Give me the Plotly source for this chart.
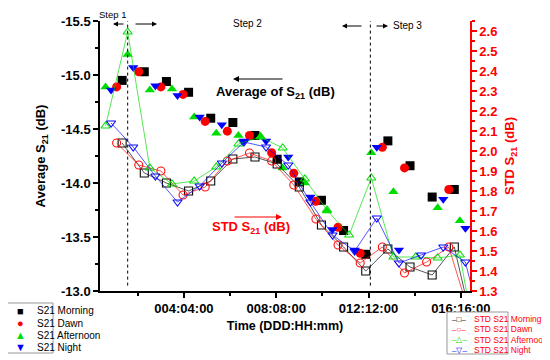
import plotly.graph_objects as go

# ---------------- data ----------------
tick_hours = [100, 200, 300, 400]
tick_labels = ["004:04:00", "008:08:00", "012:12:00", "016:16:00"]
minor_hours = [50, 150, 250, 350]

left_ticks = [-15.5, -15.0, -14.5, -14.0, -13.5, -13.0]
left_labels = ["-15.5", "-15.0", "-14.5", "-14.0", "-13.5", "-13.0"]

step_bounds = [39, 302]

t_afternoon = [15, 39, 63, 87, 111, 135, 159, 183, 207, 231, 255, 279, 303, 327, 351, 375, 399, 423]
t_night = [21, 45, 69, 93, 117, 141, 165, 189, 213, 237, 261, 285, 309, 333, 357, 381, 405, 429]
t_dawn = [27, 51, 75, 99, 123, 147, 171, 195, 219, 243, 267, 291, 315, 339, 363, 387, 411]
t_morning = [33, 57, 81, 105, 129, 153, 177, 201, 225, 249, 273, 297, 321, 345, 369, 393, 417]

avg_afternoon = [-14.89, -15.19, -14.86, -14.87, -14.61, -14.46, -14.44, -14.43, -14.14, -14.00,
                 -13.74, None, -14.28, -13.92, None, -13.77, -13.65, None]
avg_night = [-14.86, -15.07, -14.90, -14.81, -14.61, -14.54, -14.39, -14.39, -14.24, -13.87,
             -13.57, -13.38, -14.33, -13.38, None, -13.85, -13.58, None]
avg_dawn = [-14.89, -15.03, -14.89, -14.82, -14.57, -14.48, -14.44, -14.28, -14.09, -13.83,
            -13.59, -13.35, -14.33, -14.14, None, -13.94, None]
avg_morning = [-14.95, -15.03, -14.94, -14.84, -14.60, -14.56, -14.44, -14.22, -14.01, -13.84,
               -13.56, -13.34, -14.39, -14.16, -13.87, -13.94, None]

std_afternoon = [2.125, 2.595, 1.915, 1.835, 1.85, 1.92, 2.035, 2.07, 2.015, 1.86,
                 1.705, 1.58, 1.865, 1.47, 1.47, 1.465, 1.48, 0.87]
std_night = [2.14, 2.02, 1.875, 1.745, 1.825, 1.94, 2.045, 2.02, 1.93, 1.745,
             1.58, 1.50, 1.665, 1.44, 1.48, 1.52, 1.445, 1.0]
std_dawn = [2.04, 1.93, 1.90, 1.78, 1.82, 1.95, 1.99, 1.95, 1.83, 1.66,
            1.53, 1.44, 1.52, 1.39, 1.445, 1.52, 1.16]
std_morning = [2.04, 1.89, 1.84, 1.80, 1.85, 1.96, 1.97, 1.935, 1.82, 1.63,
               1.52, 1.40, 1.51, 1.42, 1.38, 1.52, 1.04]

# ---------------- style ----------------
FONT = "Liberation Sans, Arial, sans-serif"
BLACK, RED, GREEN, BLUE = "#000000", "#ff0000", "#00dd00", "#0000ff"

series = [
    ("Morning", t_morning, avg_morning, std_morning, BLACK, "square"),
    ("Dawn", t_dawn, avg_dawn, std_dawn, RED, "circle"),
    ("Afternoon", t_afternoon, avg_afternoon, std_afternoon, GREEN, "triangle-up"),
    ("Night", t_night, avg_night, std_night, BLUE, "triangle-down"),
]

fig = go.Figure()

for name, t, avg, std, col, sym in series:
    fig.add_trace(go.Scatter(
        x=t, y=std, yaxis="y2", mode="lines+markers", name="STD S21 " + name,
        line=dict(color=col, width=0.7),
        marker=dict(symbol=sym + "-open", size=8, color=col, line=dict(width=1.1, color=col)),
        opacity=0.95, showlegend=False, cliponaxis=True))

for name, t, avg, std, col, sym in series:
    fig.add_trace(go.Scatter(
        x=t, y=avg, yaxis="y", mode="markers", name="S21 " + name,
        marker=dict(symbol=sym, size=9, color=col, line=dict(width=0)),
        showlegend=False))

bold13 = dict(family=FONT, size=13, color="black", weight="bold")

# the page body has an 8 px margin, so the figure is shifted by 8 px
fig.update_layout(
    width=542, height=352,
    margin=dict(l=92, r=80, t=13, b=69, autoexpand=False),
    paper_bgcolor="white", plot_bgcolor="white",
    font=dict(family=FONT, color="black"),
    xaxis=dict(
        range=[9, 410], showline=True, linecolor="black", linewidth=1.5,
        ticks="outside", ticklen=5, tickwidth=1.5, tickcolor="black",
        tickmode="array", tickvals=tick_hours, ticktext=tick_labels,
        minor=dict(tickmode="array", tickvals=minor_hours, ticks="outside", ticklen=3,
                   tickwidth=1.5, tickcolor="black"),
        showgrid=False, zeroline=False, tickfont=bold13, automargin=False,
        title=dict(text="Time (DDD:HH:mm)", font=dict(family=FONT, size=12.5, weight="bold"),
                   standoff=6),
    ),
    yaxis=dict(
        range=[-13.0, -15.5], showline=True, linecolor="black", linewidth=1.5,
        ticks="outside", ticklen=5, tickwidth=1.5, tickcolor="black",
        tickmode="array", tickvals=left_ticks, ticktext=left_labels,
        minor=dict(dtick=0.25, tick0=-15.5, ticks="outside", ticklen=3, tickwidth=1.5,
                   tickcolor="black"),
        showgrid=False, zeroline=False, tickfont=bold13, automargin=False,
        title=dict(text="Average S<sub>21</sub> (dB)",
                   font=dict(family=FONT, size=13, weight="bold"), standoff=12),
    ),
    yaxis2=dict(
        overlaying="y", side="right", anchor="x",
        range=[1.3, 2.65], showline=True, linecolor=RED, linewidth=1.5,
        ticks="outside", ticklen=5, tickwidth=1.5, tickcolor=RED,
        dtick=0.1, tick0=1.3, tickformat=".1f",
        minor=dict(dtick=0.05, tick0=1.3, ticks="outside", ticklen=3, tickwidth=1.5,
                   tickcolor=RED),
        showgrid=False, zeroline=False, automargin=False,
        tickfont=dict(family=FONT, size=13, color=RED, weight="bold"),
        title=dict(text="STD S<sub>21</sub> (dB)",
                   font=dict(family=FONT, size=13, color=RED, weight="bold"), standoff=8),
    ),
    showlegend=False,
)

# step boundaries (dotted lines)
for xb in step_bounds:
    fig.add_shape(type="line", xref="x", yref="paper", x0=xb, x1=xb, y0=0.02, y1=1.0,
                  line=dict(color="black", width=1, dash="dot"))


def px_x(p):
    return (p - 100) / 370.0


def px_y(p):
    return (291 - p) / 270.0


def arrow(head_x, tail_x, y, color="black", width=1):
    fig.add_annotation(xref="paper", yref="paper", x=px_x(head_x), y=px_y(y),
                       ax=tail_x - head_x, ay=0, text="", showarrow=True,
                       arrowhead=2, arrowsize=1, arrowwidth=width, arrowcolor=color)


def label(text, x, y, size=10, color="black", weight="normal", xanchor="center"):
    fig.add_annotation(xref="paper", yref="paper", x=px_x(x), y=px_y(y), text=text,
                       showarrow=False, xanchor=xanchor, yanchor="middle",
                       font=dict(family=FONT, size=size, color=color, weight=weight))


label("Step 1", 112, 14.5, size=9.5)
arrow(113, 125, 24)
arrow(157, 134, 24)
label("Step 2", 247, 24)
arrow(342, 363, 26)
arrow(388, 375, 26)
label("Step 3", 391, 26, xanchor="left")

arrow(233, 284, 79, width=1.2)
label("Average of S<sub>21</sub> (dB)", 275, 92, size=13, weight="bold")
arrow(282, 233, 217, color=RED, width=1.2)
label("STD S<sub>21</sub> (dB)", 251, 228, size=13, color=RED, weight="bold")

# legend 1 (filled markers)
fig.add_shape(type="rect", xref="paper", yref="paper", x0=px_x(6), x1=px_x(53),
              y0=px_y(353), y1=px_y(303), line=dict(color="#999999", width=1),
              fillcolor="white", layer="above")
glyphs1 = ["■", "●", "▲", "▼"]
for i, (name, t, avg, std, col, sym) in enumerate(series):
    yy = 311 + 12 * i
    label(glyphs1[i], 20, yy, size=11, color=col)
    label("S21 " + name, 35, yy, size=10, xanchor="left")

# legend 2 (open markers with lines)
fig.add_shape(type="rect", xref="paper", yref="paper", x0=px_x(447), x1=px_x(508),
              y0=px_y(354), y1=px_y(312), line=dict(color="#999999", width=1),
              fillcolor="white", layer="above")
glyphs2 = ["–□–", "–○–", "–△–", "–▽–"]
for i, (name, t, avg, std, col, sym) in enumerate(series):
    yy = 319 + 10.4 * i
    label(glyphs2[i], 459, yy, size=8, color=col)
    label("STD S21\u00a0" + name, 472, yy, size=8.5, color=RED, xanchor="left")

fig.write_html("out.html")
